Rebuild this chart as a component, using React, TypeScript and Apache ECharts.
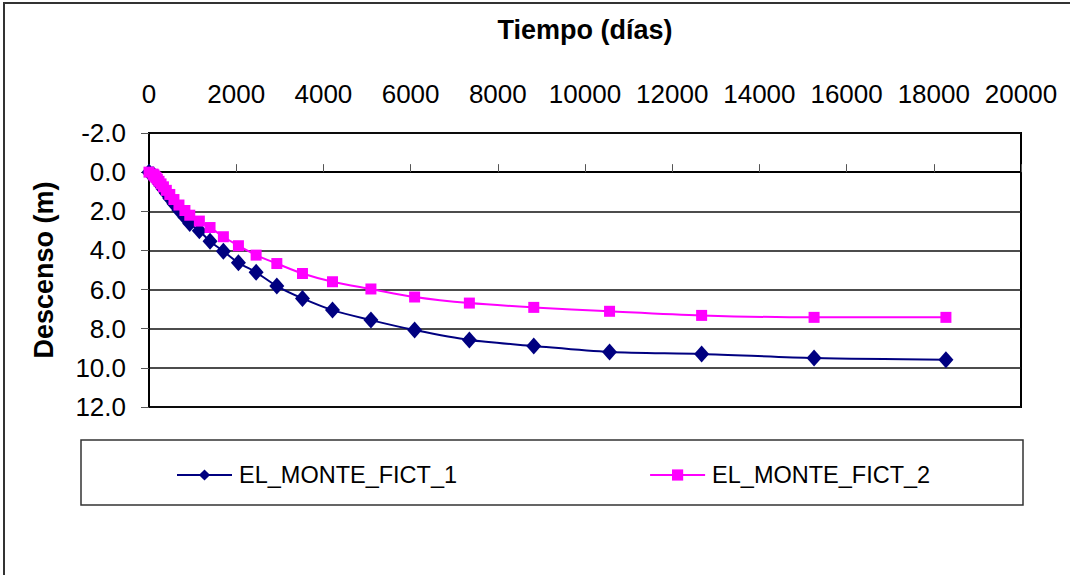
import React, { useEffect, useRef } from "react";
import * as echarts from "echarts";

const xTicks = [0, 2000, 4000, 6000, 8000, 10000, 12000, 14000, 16000, 18000, 20000];
const yTicks = [-2, 0, 2, 4, 6, 8, 10, 12];

const tiempo = [0, 92, 111, 133, 160, 192, 230, 276, 331, 397, 477, 572, 687, 824, 935, 1155, 1400, 1706, 2051, 2457, 2932, 3520, 4209, 5090, 6092, 7348, 8825, 10563, 12675, 15254, 18278];
const fict1 = [0, 0.12, 0.17, 0.24, 0.32, 0.42, 0.55, 0.7, 0.87, 1.08, 1.33, 1.62, 1.95, 2.3, 2.62, 3.0, 3.53, 4.04, 4.63, 5.12, 5.82, 6.45, 7.05, 7.56, 8.07, 8.58, 8.88, 9.19, 9.29, 9.5, 9.58];
const fict2 = [0, 0.1, 0.14, 0.2, 0.27, 0.36, 0.47, 0.6, 0.75, 0.93, 1.14, 1.4, 1.68, 1.96, 2.2, 2.5, 2.83, 3.3, 3.76, 4.24, 4.67, 5.18, 5.6, 5.97, 6.38, 6.69, 6.91, 7.11, 7.32, 7.42, 7.42];

const seriesNames = ["EL_MONTE_FICT_1", "EL_MONTE_FICT_2"];
const FONT = "'Liberation Sans', Arial, sans-serif";

export default function App() {
  const ref = useRef<HTMLDivElement>(null);
  useEffect(() => {
    if (!ref.current) return;
    const chart = echarts.init(ref.current, null, { renderer: "svg" });
    const pts = (ys: number[]) => tiempo.map((t, i) => [t, ys[i]]);
    chart.setOption({
      animation: false,
      backgroundColor: "#fff",
      textStyle: { fontFamily: FONT },
      grid: {
        left: 149,
        top: 133,
        right: 49,
        bottom: 168,
        show: true,
        borderColor: "#000",
        borderWidth: 2,
        containLabel: false,
        outerBoundsMode: "none",
      },
      xAxis: {
        type: "value",
        position: "top",
        min: xTicks[0],
        max: xTicks[xTicks.length - 1],
        interval: 2000,
        name: "Tiempo (días)",
        nameLocation: "middle",
        nameGap: 90,
        nameTextStyle: { fontSize: 27, fontWeight: "bold", color: "#000", fontFamily: FONT },
        axisLine: { show: true, lineStyle: { color: "#000", width: 2 } },
        axisTick: { show: true, inside: false, length: 8, lineStyle: { color: "#555", width: 1 } },
        axisLabel: {
          fontSize: 26,
          color: "#000",
          margin: 26,
          fontFamily: FONT,
          formatter: (v: number) => String(v),
        },
        splitLine: { show: false },
      },
      yAxis: {
        type: "value",
        inverse: true,
        min: yTicks[0],
        max: yTicks[yTicks.length - 1],
        interval: 2,
        name: "Descenso (m)",
        nameLocation: "middle",
        nameGap: 92,
        nameRotate: 90,
        nameTextStyle: { fontSize: 27, fontWeight: "bold", color: "#000", fontFamily: FONT },
        axisLine: { show: true, lineStyle: { color: "#000", width: 2 } },
        axisTick: { show: true, inside: false, length: 8, lineStyle: { color: "#555", width: 1 } },
        axisLabel: {
          fontSize: 26,
          color: "#000",
          margin: 23,
          fontFamily: FONT,
          formatter: (v: number) => v.toFixed(1),
        },
        splitLine: { show: true, lineStyle: { color: "#111", width: 1.5 } },
      },
      legend: {
        left: 171,
        top: 458,
        itemWidth: 55,
        itemHeight: 14,
        itemGap: 192,
        textStyle: { fontSize: 23.5, color: "#000", fontFamily: FONT, padding: [0, 0, 0, 2] },
        data: seriesNames,
      },
      graphic: [
        {
          type: "rect",
          shape: { x: 81, y: 440, width: 942, height: 65 },
          style: { fill: "none", stroke: "#333", lineWidth: 1.5 },
          silent: true,
        },
        {
          type: "rect",
          shape: { x: 4, y: 3, width: 1100, height: 620 },
          style: { fill: "none", stroke: "#333", lineWidth: 2 },
          silent: true,
        },
      ],
      series: [
        {
          name: seriesNames[0],
          type: "line",
          data: pts(fict1),
          smooth: 0.3,
          symbol: "diamond",
          symbolSize: [15, 17],
          lineStyle: { color: "#000080", width: 2 },
          itemStyle: { color: "#000080" },
          z: 3,
        },
        {
          name: seriesNames[1],
          type: "line",
          data: pts(fict2),
          smooth: 0.3,
          symbol: "rect",
          symbolSize: 11,
          lineStyle: { color: "#FF00FF", width: 2 },
          itemStyle: { color: "#FF00FF" },
          z: 4,
        },
      ],
    });
    return () => chart.dispose();
  }, []);
  return (
    <div
      ref={ref}
      style={{ position: "fixed", left: 0, top: 0, width: 1070, height: 575, background: "#fff" }}
    />
  );
}
